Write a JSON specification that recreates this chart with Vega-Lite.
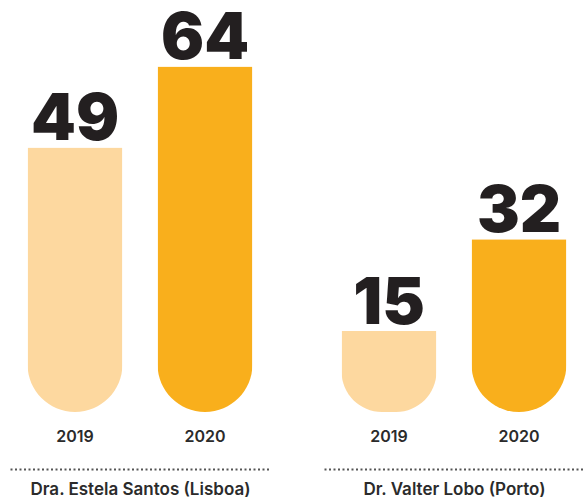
{
  "$schema": "https://vega.github.io/schema/vega-lite/v6.json",
  "padding": {"left": 10, "top": 0, "right": 0, "bottom": 0},
  "data": {"values": [
    {"group": "Dra. Estela Santos (Lisboa)", "year": "2019", "value": 49},
    {"group": "Dra. Estela Santos (Lisboa)", "year": "2020", "value": 64},
    {"group": "Dr. Valter Lobo (Porto)", "year": "2019", "value": 15},
    {"group": "Dr. Valter Lobo (Porto)", "year": "2020", "value": 32}
  ]},
  "spacing": 54,
  "config": {"view": {"stroke": null}, "font": "Inter"},
  "hconcat": [
    {
      "width": 260, "height": 412,
      "transform": [{"filter": "datum.group === 'Dra. Estela Santos (Lisboa)'"}],
      "layer": [
        {
          "mark": {"type": "bar", "cornerRadiusBottomLeft": 47.5, "cornerRadiusBottomRight": 47.5},
          "encoding": {
            "x": {"field": "year", "type": "nominal", "scale": {"paddingInner": 0.27, "paddingOuter": 0.135},
              "axis": {"orient": "bottom", "title": null, "labelAngle": 0, "domain": false, "ticks": false, "tickSize": 0, "labelPadding": 29, "labelBaseline": "alphabetic", "labelFontSize": 16, "labelFontWeight": 600, "labelColor": "#2b2b2b"}},
            "y": {"field": "value", "type": "quantitative", "scale": {"domain": [0, 76.3], "nice": false}, "axis": null},
            "color": {"field": "year", "type": "nominal", "scale": {"domain": ["2019", "2020"], "range": ["#fdd89f", "#f9af1c"]}, "legend": null}
          }
        },
        {
          "mark": {"type": "text", "dy": -7, "baseline": "alphabetic", "fontSize": 64, "fontWeight": 900, "color": "#231f20"},
          "encoding": {
            "x": {"field": "year", "type": "nominal", "scale": {"paddingInner": 0.27, "paddingOuter": 0.135},
              "axis": {"orient": "bottom", "title": "Dra. Estela Santos (Lisboa)", "labels": false, "ticks": false, "tickSize": 0, "domainDash": [2, 2.5], "domainWidth": 2, "domainColor": "#555555", "offset": 57, "titleFontSize": 17, "titleFontWeight": 600, "titleColor": "#2b2b2b", "titlePadding": 25, "titleBaseline": "alphabetic"}},
            "y": {"field": "value", "type": "quantitative"},
            "text": {"field": "value"}
          }
        }
      ],
      "resolve": {"scale": {"x": "independent"}}
    },
    {
      "width": 260, "height": 412,
      "transform": [{"filter": "datum.group === 'Dr. Valter Lobo (Porto)'"}],
      "layer": [
        {
          "mark": {"type": "bar", "cornerRadiusBottomLeft": 47.5, "cornerRadiusBottomRight": 47.5},
          "encoding": {
            "x": {"field": "year", "type": "nominal", "scale": {"paddingInner": 0.27, "paddingOuter": 0.135},
              "axis": {"orient": "bottom", "title": null, "labelAngle": 0, "domain": false, "ticks": false, "tickSize": 0, "labelPadding": 29, "labelBaseline": "alphabetic", "labelFontSize": 16, "labelFontWeight": 600, "labelColor": "#2b2b2b"}},
            "y": {"field": "value", "type": "quantitative", "scale": {"domain": [0, 76.3], "nice": false}, "axis": null},
            "color": {"field": "year", "type": "nominal", "scale": {"domain": ["2019", "2020"], "range": ["#fdd89f", "#f9af1c"]}, "legend": null}
          }
        },
        {
          "mark": {"type": "text", "dy": -7, "baseline": "alphabetic", "fontSize": 64, "fontWeight": 900, "color": "#231f20"},
          "encoding": {
            "x": {"field": "year", "type": "nominal", "scale": {"paddingInner": 0.27, "paddingOuter": 0.135},
              "axis": {"orient": "bottom", "title": "Dr. Valter Lobo (Porto)", "labels": false, "ticks": false, "tickSize": 0, "domainDash": [2, 2.5], "domainWidth": 2, "domainColor": "#555555", "offset": 57, "titleFontSize": 17, "titleFontWeight": 600, "titleColor": "#2b2b2b", "titlePadding": 25, "titleBaseline": "alphabetic"}},
            "y": {"field": "value", "type": "quantitative"},
            "text": {"field": "value"}
          }
        }
      ],
      "resolve": {"scale": {"x": "independent"}}
    }
  ]
}
